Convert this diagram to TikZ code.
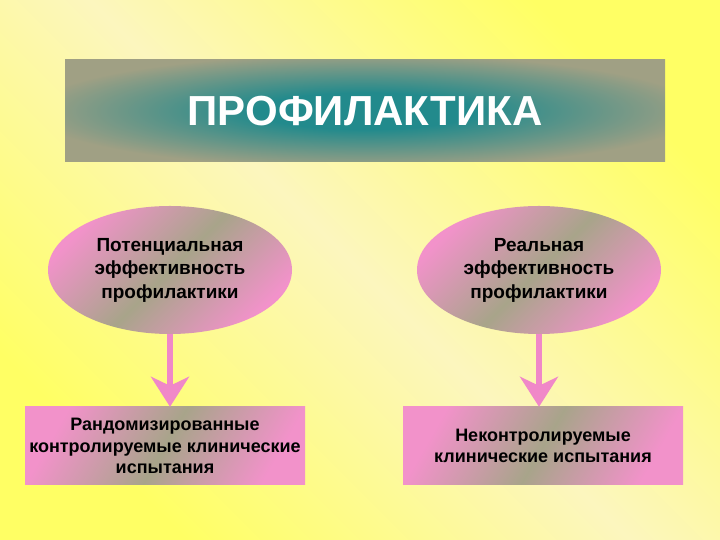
\documentclass[tikz,border=0pt]{standalone}
\usepackage{fontspec}
\setmainfont{Liberation Sans}
\usetikzlibrary{shapes.geometric,arrows.meta}
\definecolor{bgYellow}{RGB}{255,255,100}
\definecolor{bgPale}{RGB}{252,246,190}
\definecolor{pinkC}{RGB}{242,146,202}
\definecolor{greyC}{RGB}{168,164,138}
\definecolor{tealC}{RGB}{34,138,140}
\definecolor{titleGrey}{RGB}{160,160,132}
\definecolor{arrowPink}{RGB}{240,136,200}
\pgfdeclareradialshading{titleshade}{\pgfpoint{0bp}{0bp}}{color(0bp)=(tealC); color(9bp)=(tealC); color(28bp)=(titleGrey); color(50bp)=(titleGrey)}
\tikzset{
  ellitext/.style={font=\fontsize{19}{23.5}\selectfont\bfseries, text=black, align=center},
  boxtext/.style={font=\fontsize{18}{21.5}\selectfont\bfseries, text=black, align=center},
  elli/.style={ellipse, minimum width=244pt, minimum height=128pt, inner sep=0pt,
    top color=pinkC, bottom color=pinkC, middle color=greyC, shading angle=45, ellitext},
  resbox/.style={rectangle, minimum width=280pt, minimum height=78pt, inner sep=0pt,
    top color=pinkC, bottom color=pinkC, middle color=greyC, shading angle=60, boxtext},
  titlebox/.style={rectangle, minimum width=600pt, minimum height=102pt, inner sep=0pt,
    shading=titleshade, text=white, font=\fontsize{42}{50}\selectfont\bfseries},
  pinkarrow/.style={draw=arrowPink, line width=6.5pt,
    -{Stealth[length=30pt, width=38pt, inset=9pt, fill=arrowPink]}}
}
\begin{document}
\begin{tikzpicture}[x=1pt,y=1pt]
\useasboundingbox (0,0) rectangle (720,540);
\shade[top color=bgYellow, bottom color=bgYellow, middle color=bgPale, shading angle=-45] (0,0) rectangle (720,540);
\node[titlebox] (title) at (365,429) {ПРОФИЛАКТИКА};
\node[elli] (e1) at (170,270) {Потенциальная\\эффективность\\профилактики};
\node[elli] (e2) at (539,270) {Реальная\\эффективность\\профилактики};
\node[resbox] (b1) at (165,94) {Рандомизированные\\контролируемые клинические\\испытания};
\node[resbox] (b2) at (543,94) {Неконтролируемые\\клинические испытания};
\draw[pinkarrow] (e1.south) -- (e1.south |- b1.north);
\draw[pinkarrow] (e2.south) -- (e2.south |- b2.north);
\end{tikzpicture}
\end{document}
